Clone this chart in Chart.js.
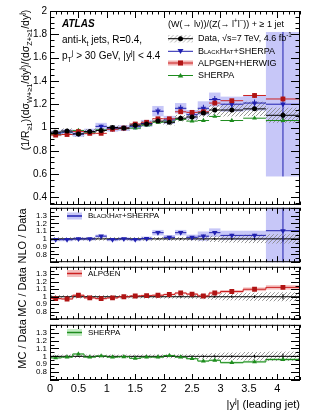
<!DOCTYPE html>
<html>
<head>
<meta charset="utf-8">
<script src="https://cdn.jsdelivr.net/npm/chart.js@4.4.1/dist/chart.umd.min.js"></script>
<style>
  body { margin: 0; background: #fff; }
  #wrap { position: relative; width: 316px; height: 413px; overflow: hidden;
          font-family: "Liberation Sans", Arial, sans-serif; color: #000; }
  canvas { position: absolute; left: 0; }
  .t { position: absolute; white-space: nowrap; line-height: 1; }
  .rot { position: absolute; white-space: nowrap; line-height: 1;
         transform: translate(-50%, -50%) rotate(-90deg); }
  sub, sup { font-size: 70%; line-height: 0; }
  .sc { font-variant: small-caps; }
  svg { position: absolute; left: 0; top: 0; pointer-events: none; }
</style>
</head>
<body>
<div id="wrap">
  <canvas id="cMain" width="316" height="215" style="top:0px"></canvas>
  <canvas id="cNlo" width="316" height="70" style="top:200px"></canvas>
  <canvas id="cAlp" width="316" height="68" style="top:259px"></canvas>
  <canvas id="cShe" width="316" height="96" style="top:317px"></canvas>

  <svg width="316" height="413">
    <defs>
      <pattern id="hatch" width="3" height="3" patternUnits="userSpaceOnUse" patternTransform="rotate(45)">
        <line x1="0" y1="0" x2="0" y2="3" stroke="#888" stroke-width="0.9"/>
      </pattern>
    </defs>
    <!-- main legend symbols -->
    <rect x="168" y="35" width="25" height="7.5" fill="url(#hatch)"/>
    <line x1="168" y1="38.7" x2="193" y2="38.7" stroke="#000" stroke-width="1"/>
    <circle cx="180.5" cy="38.7" r="2.5" fill="#000"/>
    <line x1="168" y1="51.3" x2="193" y2="51.3" stroke="#2020b0" stroke-width="1"/>
    <polygon points="177.5,49 183.5,49 180.5,54" fill="#2020b0"/>
    <rect x="168" y="60.5" width="25" height="5" fill="#f2b4b4"/>
    <line x1="168" y1="63" x2="193" y2="63" stroke="#cc2020" stroke-width="1"/>
    <rect x="178" y="60.5" width="5" height="5" fill="#b01414"/>
    <line x1="168" y1="75.5" x2="193" y2="75.5" stroke="#1e8c1e" stroke-width="1"/>
    <polygon points="177.7,77.5 183.3,77.5 180.5,73" fill="#1e8c1e"/>
    <!-- ratio legends -->
    <rect x="67" y="212.5" width="15" height="7" fill="#c8c8f6"/>
    <line x1="67" y1="216" x2="82" y2="216" stroke="#2020b0" stroke-width="1.5"/>
    <rect x="67" y="270" width="15" height="7" fill="#f4c0c0"/>
    <line x1="67" y1="273.5" x2="82" y2="273.5" stroke="#cc2020" stroke-width="1.5"/>
    <rect x="67" y="329" width="15" height="7" fill="#c4ecc4"/>
    <line x1="67" y1="332.5" x2="82" y2="332.5" stroke="#1e8c1e" stroke-width="1.5"/>
  </svg>

  <div class="t" style="left:62px;top:19px;font-size:10px;font-weight:bold;font-style:italic;">ATLAS</div>
  <div class="t" style="left:62px;top:35px;font-size:10px;">anti-k<sub>t</sub> jets, R=0.4,</div>
  <div class="t" style="left:62px;top:51px;font-size:10px;">p<sub>T</sub><sup>j</sup> &gt; 30 GeV, |y<sup>j</sup>| &lt; 4.4</div>

  <div class="t" style="left:168px;top:20px;font-size:9px;">(W(&rarr; l&nu;))/(Z(&rarr; l<sup>+</sup>l<sup>&minus;</sup>)) + &ge; 1 jet</div>
  <div class="t" style="left:198px;top:34px;font-size:9px;">Data, &radic;s=7 TeV, 4.6 fb<sup>-1</sup></div>
  <div class="t sc" style="left:198px;top:47px;font-size:9px;">BlackHat+SHERPA</div>
  <div class="t" style="left:198px;top:59px;font-size:9px;">ALPGEN+HERWIG</div>
  <div class="t" style="left:198px;top:71px;font-size:9px;">SHERPA</div>

  <div class="t sc" style="left:88px;top:212px;font-size:8px;">BlackHat+SHERPA</div>
  <div class="t" style="left:88px;top:270px;font-size:8px;">ALPGEN</div>
  <div class="t" style="left:88px;top:329px;font-size:8px;">SHERPA</div>

  <div class="rot" style="left:25px;top:80px;font-size:10.5px;">(1/R<sub>&ge;1</sub>)(d&sigma;<sub>W+&ge;1</sub>/dy<sup>j</sup>)/(d&sigma;<sub>Z+&ge;1</sub>/dy<sup>j</sup>)</div>
  <div class="rot" style="left:22px;top:236px;font-size:11px;">NLO / Data</div>
  <div class="rot" style="left:22px;top:292px;font-size:11px;">MC / Data</div>
  <div class="rot" style="left:22px;top:344px;font-size:11px;">MC / Data</div>

  <div class="t" style="right:16px;top:399px;font-size:11px;">|y<sup>j</sup>| (leading jet)</div>
</div>

<script>
// bins in |y| of the leading jet
const binEdges   = [0, 0.2, 0.4, 0.6, 0.8, 1.0, 1.2, 1.4, 1.6, 1.8, 2.0, 2.2, 2.4, 2.6, 2.8, 3.0, 3.4, 3.8, 4.4];
const binCenters = [0.1, 0.3, 0.5, 0.7, 0.9, 1.1, 1.3, 1.5, 1.7, 1.9, 2.1, 2.3, 2.5, 2.7, 2.9, 3.2, 3.6, 4.1];

// main panel
const dataVal  = [0.96, 0.97, 0.945, 0.965, 0.975, 1.0, 0.995, 1.02, 1.03, 1.055, 1.045, 1.08, 1.09, 1.125, 1.15, 1.15, 1.16, 1.105];
const dataStat = [0.008, 0.008, 0.008, 0.008, 0.008, 0.008, 0.008, 0.008, 0.01, 0.01, 0.01, 0.01, 0.012, 0.012, 0.014, 0.015, 0.018, 0.03];
const dataSyst = [0.022, 0.022, 0.022, 0.022, 0.022, 0.022, 0.022, 0.023, 0.024, 0.025, 0.026, 0.028, 0.03, 0.035, 0.045, 0.055, 0.062, 0.065];

const blackhatVal  = [0.95, 0.96, 0.945, 0.965, 1.01, 0.99, 0.995, 1.01, 1.035, 1.14, 1.065, 1.165, 1.11, 1.165, 1.24, 1.2, 1.21, 1.2];
const blackhatErr  = [0.025, 0.025, 0.025, 0.025, 0.03, 0.025, 0.025, 0.025, 0.03, 0.045, 0.035, 0.045, 0.04, 0.06, 0.06, 0.065, 0.065, 0.62];
const blackhatStat = [0.015, 0.015, 0.015, 0.015, 0.015, 0.015, 0.015, 0.015, 0.02, 0.03, 0.02, 0.03, 0.02, 0.03, 0.03, 0.03, 0.03, 0.62];

const alpgenVal  = [0.935, 0.94, 0.965, 0.95, 0.95, 0.985, 0.995, 1.03, 1.045, 1.075, 1.075, 1.135, 1.13, 1.135, 1.21, 1.23, 1.275, 1.245];
const alpgenStat = [0.008, 0.008, 0.008, 0.008, 0.008, 0.008, 0.008, 0.01, 0.01, 0.01, 0.01, 0.012, 0.012, 0.012, 0.015, 0.015, 0.02, 0.02];

const sherpaVal = [0.94, 0.96, 0.975, 0.955, 0.98, 0.99, 0.99, 0.995, 1.02, 1.045, 1.055, 1.07, 1.055, 1.06, 1.095, 1.06, 1.08, 1.06];

// ratio panels (model / data)
const dataRelStat = [0.008, 0.008, 0.008, 0.008, 0.008, 0.008, 0.008, 0.008, 0.01, 0.01, 0.01, 0.01, 0.012, 0.012, 0.014, 0.015, 0.018, 0.035];
const dataRelSyst = [0.022, 0.022, 0.022, 0.022, 0.022, 0.022, 0.022, 0.023, 0.024, 0.024, 0.025, 0.026, 0.028, 0.032, 0.04, 0.048, 0.054, 0.06];

const blackhatRatio     = [0.99, 0.99, 1.0, 1.0, 1.035, 0.99, 1.0, 0.99, 1.005, 1.08, 1.02, 1.08, 1.02, 1.035, 1.08, 1.045, 1.045, 1.105];
const blackhatRatioErr  = [0.02, 0.02, 0.02, 0.02, 0.02, 0.02, 0.02, 0.02, 0.025, 0.035, 0.03, 0.035, 0.035, 0.06, 0.055, 0.06, 0.06, 0.8];
const blackhatRatioStat = [0.012, 0.012, 0.012, 0.012, 0.012, 0.012, 0.012, 0.012, 0.015, 0.02, 0.015, 0.02, 0.015, 0.02, 0.02, 0.02, 0.02, 0.8];

const alpgenRatio    = [0.975, 0.97, 1.02, 0.985, 0.975, 0.985, 1.0, 1.01, 1.015, 1.02, 1.03, 1.05, 1.035, 1.01, 1.05, 1.07, 1.10, 1.125];
const alpgenRatioErr = [0.012, 0.012, 0.012, 0.012, 0.012, 0.012, 0.012, 0.012, 0.013, 0.013, 0.014, 0.015, 0.015, 0.016, 0.018, 0.02, 0.025, 0.03];

const sherpaRatio    = [0.98, 0.99, 1.03, 0.99, 1.005, 0.99, 0.995, 0.975, 0.99, 0.99, 1.01, 0.99, 0.97, 0.94, 0.95, 0.92, 0.93, 0.96];
const sherpaRatioErr = [0.008, 0.008, 0.008, 0.008, 0.008, 0.008, 0.008, 0.008, 0.009, 0.009, 0.01, 0.01, 0.01, 0.012, 0.012, 0.015, 0.015, 0.018];

// tick labels
const xTickLabels     = [0, 0.5, 1, 1.5, 2, 2.5, 3, 3.5, 4];
const mainYTickLabels = [0.4, 0.6, 0.8, 1, 1.2, 1.4, 1.6, 1.8, 2];
const ratioYTickLabels = [0.8, 0.9, 1, 1.1, 1.2, 1.3];

const BLUE = '#2020b0', BLUE_FILL = 'rgba(100,100,235,0.36)';
const RED = '#cc2020', RED_MK = '#b01414', RED_FILL = 'rgba(230,90,90,0.38)';
const GREEN = '#1e8c1e', GREEN_FILL = 'rgba(90,200,90,0.35)';

Chart.defaults.font.family = '"Liberation Sans", Arial, sans-serif';
Chart.defaults.color = '#000';

const fmt = v => String(Math.round(v * 100) / 100);

let hatchPattern = null;
function getHatch(ctx) {
    if (hatchPattern) return hatchPattern;
    const c = document.createElement('canvas');
    c.width = 4; c.height = 4;
    const g = c.getContext('2d');
    g.strokeStyle = '#8a8a8a';
    g.lineWidth = 0.9;
    g.beginPath();
    g.moveTo(0, 4); g.lineTo(4, 0);
    g.moveTo(-1, 1); g.lineTo(1, -1);
    g.moveTo(3, 5); g.lineTo(5, 3);
    g.stroke();
    hatchPattern = ctx.createPattern(c, 'repeat');
    return hatchPattern;
}

function box(chart, x0, x1, y0, y1, fill) {
    const xs = chart.scales.x, ys = chart.scales.y;
    const a = xs.getPixelForValue(x0), b = xs.getPixelForValue(x1);
    const top = ys.getPixelForValue(y1), bot = ys.getPixelForValue(y0);
    chart.ctx.fillStyle = fill;
    chart.ctx.fillRect(a, top, b - a, bot - top);
}

function seg(chart, x0, y0, x1, y1, color, w) {
    const xs = chart.scales.x, ys = chart.scales.y, ctx = chart.ctx;
    ctx.strokeStyle = color;
    ctx.lineWidth = w || 1;
    ctx.beginPath();
    ctx.moveTo(xs.getPixelForValue(x0), ys.getPixelForValue(y0));
    ctx.lineTo(xs.getPixelForValue(x1), ys.getPixelForValue(y1));
    ctx.stroke();
}

function stepLine(chart, vals, color) {
    const xs = chart.scales.x, ys = chart.scales.y, ctx = chart.ctx;
    ctx.strokeStyle = color;
    ctx.lineWidth = 1;
    ctx.beginPath();
    vals.forEach((v, i) => {
        const p0 = xs.getPixelForValue(binEdges[i]), p1 = xs.getPixelForValue(binEdges[i + 1]);
        const py = ys.getPixelForValue(v);
        if (i === 0) ctx.moveTo(p0, py); else ctx.lineTo(p0, py);
        ctx.lineTo(p1, py);
    });
    ctx.stroke();
}

function clipArea(chart) {
    const a = chart.chartArea;
    chart.ctx.save();
    chart.ctx.beginPath();
    chart.ctx.rect(a.left, a.top, a.right - a.left, a.bottom - a.top);
    chart.ctx.clip();
}

// ROOT style frame with inward ticks on all four sides
function makeFrame(cfg) {
    return {
        id: 'frame',
        afterDatasetsDraw(chart) {
            const {ctx, chartArea: a} = chart;
            const xs = chart.scales.x, ys = chart.scales.y;
            ctx.save();
            ctx.strokeStyle = '#000';
            ctx.lineWidth = 1;
            ctx.strokeRect(a.left + 0.5, a.top + 0.5, a.right - a.left - 1, a.bottom - a.top - 1);
            ctx.beginPath();
            for (let k = 0; k * 0.1 <= xs.max + 1e-9; k++) {
                const len = k % 5 === 0 ? cfg.xMaj : cfg.xMin;
                const p = Math.round(xs.getPixelForValue(k * 0.1)) + 0.5;
                ctx.moveTo(p, a.bottom); ctx.lineTo(p, a.bottom - len);
                ctx.moveTo(p, a.top); ctx.lineTo(p, a.top + len);
            }
            const k0 = Math.ceil(ys.min / cfg.yStep - 1e-9), k1 = Math.floor(ys.max / cfg.yStep + 1e-9);
            for (let k = k0; k <= k1; k++) {
                const len = k % cfg.yDiv === 0 ? cfg.yMaj : cfg.yMin;
                const p = Math.round(ys.getPixelForValue(k * cfg.yStep)) + 0.5;
                ctx.moveTo(a.left, p); ctx.lineTo(a.left + len, p);
                ctx.moveTo(a.right, p); ctx.lineTo(a.right - len, p);
            }
            ctx.stroke();
            ctx.restore();
        }
    };
}

function baseOptions(yMin, yMax, yTicks, yFont, padding, showX) {
    return {
        responsive: false,
        animation: false,
        devicePixelRatio: 1,
        events: [],
        layout: { padding },
        plugins: { legend: { display: false }, tooltip: { enabled: false } },
        scales: {
            x: {
                type: 'linear', min: 0, max: 4.4, display: showX,
                grid: { display: false, drawTicks: false }, border: { display: false },
                afterBuildTicks: s => { s.ticks = xTickLabels.map(v => ({ value: v })); },
                afterFit: s => { s.height = showX ? 33 : 0; },
                ticks: { font: { size: 11 }, padding: 2, maxRotation: 0, autoSkip: false, callback: v => fmt(v) }
            },
            y: {
                type: 'linear', min: yMin, max: yMax,
                grid: { display: false, drawTicks: false }, border: { display: false },
                afterBuildTicks: s => { s.ticks = yTicks.map(v => ({ value: v })); },
                afterFit: s => { s.width = 50; },
                ticks: { font: { size: yFont }, padding: 3, autoSkip: false, callback: v => fmt(v) }
            }
        }
    };
}

function points(vals) {
    return vals.map((v, i) => ({ x: binCenters[i], y: v }));
}

function marker(label, vals, color, style, r, rot) {
    return {
        label, data: points(vals), showLine: false,
        pointStyle: style, pointRadius: r, pointRotation: rot || 0,
        pointBackgroundColor: color, pointBorderColor: color, pointBorderWidth: 0
    };
}

// main panel
new Chart(document.getElementById('cMain'), {
    type: 'scatter',
    data: {
        datasets: [
            marker('Data', dataVal, '#000', 'circle', 2.5),
            marker('ALPGEN+HERWIG', alpgenVal, RED_MK, 'rect', 3.4),
            marker('BlackHat+SHERPA', blackhatVal, BLUE, 'triangle', 3.2, 180),
            marker('SHERPA', sherpaVal, GREEN, 'triangle', 2.8)
        ]
    },
    options: baseOptions(0.335, 2.0, mainYTickLabels, 10, { top: 11, bottom: 10, right: 16, left: 0 }, false),
    plugins: [{
        id: 'mainLayers',
        beforeDatasetsDraw(chart) {
            clipArea(chart);
            binCenters.forEach((c, i) => {
                box(chart, binEdges[i], binEdges[i + 1], blackhatVal[i] - blackhatErr[i], blackhatVal[i] + blackhatErr[i], BLUE_FILL);
            });
            binCenters.forEach((c, i) => {
                box(chart, binEdges[i], binEdges[i + 1], dataVal[i] - dataSyst[i], dataVal[i] + dataSyst[i], getHatch(chart.ctx));
            });
            binCenters.forEach((c, i) => {
                seg(chart, binEdges[i], sherpaVal[i], binEdges[i + 1], sherpaVal[i], GREEN);
                seg(chart, binEdges[i], blackhatVal[i], binEdges[i + 1], blackhatVal[i], BLUE);
                seg(chart, c, blackhatVal[i] - blackhatStat[i], c, blackhatVal[i] + blackhatStat[i], BLUE);
                seg(chart, binEdges[i], alpgenVal[i], binEdges[i + 1], alpgenVal[i], RED);
                seg(chart, c, alpgenVal[i] - alpgenStat[i], c, alpgenVal[i] + alpgenStat[i], RED);
                seg(chart, binEdges[i], dataVal[i], binEdges[i + 1], dataVal[i], '#000');
                seg(chart, c, dataVal[i] - dataStat[i], c, dataVal[i] + dataStat[i], '#000');
            });
            chart.ctx.restore();
        }
    }, makeFrame({ xMaj: 7, xMin: 3.5, yStep: 0.05, yDiv: 4, yMaj: 9, yMin: 4.5 })]
});

function ratioPanel(id, padding, showX, modelRatio, modelErr, color, fill, markerDs, drawModel) {
    return new Chart(document.getElementById(id), {
        type: 'scatter',
        data: { datasets: [markerDs] },
        options: baseOptions(0.7, 1.4, ratioYTickLabels, 8, padding, showX),
        plugins: [{
            id: 'ratioLayers',
            beforeDatasetsDraw(chart) {
                clipArea(chart);
                binCenters.forEach((c, i) => {
                    box(chart, binEdges[i], binEdges[i + 1], modelRatio[i] - modelErr[i], modelRatio[i] + modelErr[i], fill);
                });
                binCenters.forEach((c, i) => {
                    box(chart, binEdges[i], binEdges[i + 1], 1 - dataRelSyst[i], 1 + dataRelSyst[i], getHatch(chart.ctx));
                });
                seg(chart, 0, 1, 4.4, 1, '#000');
                binCenters.forEach((c, i) => {
                    seg(chart, c, 1 - dataRelStat[i], c, 1 + dataRelStat[i], '#000');
                });
                drawModel(chart);
                chart.ctx.restore();
            }
        }, makeFrame({ xMaj: 6, xMin: 3, yStep: 0.05, yDiv: 2, yMaj: 9, yMin: 4.5 })]
    });
}

ratioPanel('cNlo', { top: 5, bottom: 6, right: 16, left: 0 }, false,
    blackhatRatio, blackhatRatioErr, BLUE, BLUE_FILL,
    marker('BlackHat+SHERPA', blackhatRatio, BLUE, 'triangle', 3.2, 180),
    chart => {
        binCenters.forEach((c, i) => {
            seg(chart, binEdges[i], blackhatRatio[i], binEdges[i + 1], blackhatRatio[i], BLUE);
            seg(chart, c, blackhatRatio[i] - blackhatRatioStat[i], c, blackhatRatio[i] + blackhatRatioStat[i], BLUE);
        });
    });

ratioPanel('cAlp', { top: 5, bottom: 5, right: 16, left: 0 }, false,
    alpgenRatio, alpgenRatioErr, RED, RED_FILL,
    marker('ALPGEN', alpgenRatio, RED_MK, 'rect', 3.4),
    chart => { stepLine(chart, alpgenRatio, RED); });

ratioPanel('cShe', { top: 5, bottom: 0, right: 16, left: 0 }, true,
    sherpaRatio, sherpaRatioErr, GREEN, GREEN_FILL,
    marker('SHERPA', sherpaRatio, GREEN, 'triangle', 2.8),
    chart => { stepLine(chart, sherpaRatio, GREEN); });
</script>
</body>
</html>
